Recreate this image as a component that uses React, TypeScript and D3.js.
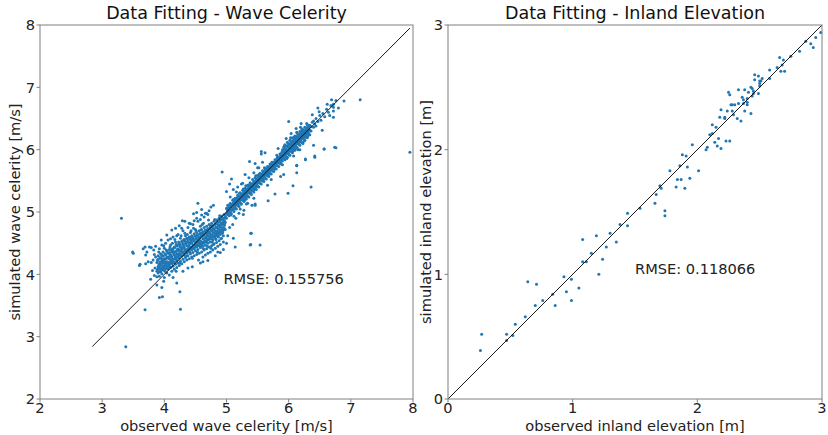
import React from 'react';
import * as d3 from 'd3';

// ---------- data: wave celerity (observed, simulated) ----------
const celerityPoints: [number, number][] = [
  // scattered outliers
  [3.31,4.90],[3.49,4.36],[3.50,4.34],[3.66,4.41],[3.70,4.31],[3.72,4.36],[3.76,4.44],[3.69,4.44],[3.79,4.43],
  [3.83,4.39],[3.84,4.32],[3.61,4.16],[3.70,4.17],[3.79,4.19],[3.82,4.23],[3.60,4.14],[3.74,4.20],
  [3.81,4.06],[3.78,3.92],[3.96,3.79],[3.92,3.63],[3.97,3.64],[3.88,3.83],[3.99,3.89],[4.20,3.86],[4.25,3.72],
  [4.14,3.95],[3.69,3.43],[4.26,3.44],[3.38,2.84],[4.12,4.71],[4.29,4.86],[4.54,5.14],[4.42,4.81],
  [5.40,4.66],[5.39,4.48],[5.54,4.47],[5.14,4.44],[4.90,4.35],[5.00,4.50],[5.46,5.11],[5.32,5.13],
  [4.93,5.64],[5.56,5.97],[5.56,5.93],[5.37,5.81],[5.46,5.78],[5.08,5.53],[5.05,5.45],[5.00,5.33],[5.11,5.36],
  [4.79,5.11],[4.68,4.98],[6.74,6.04],[6.57,6.01],[6.42,5.90],[6.40,6.07],[6.27,5.84],[6.13,5.75],[6.13,5.63],
  [6.07,5.42],[5.99,5.30],[6.36,5.40],[5.78,5.29],[5.67,5.18],[5.87,5.57],[5.46,5.13],[5.41,5.11],[5.28,5.03],
  [5.39,4.66],[5.38,4.47],[5.11,4.58],[7.15,6.80],[6.89,6.78],[6.80,6.67],[6.72,6.73],[6.69,6.80],[6.62,6.73],
  [6.47,6.67],[6.49,6.61],[6.72,6.62],[6.66,6.55],[6.38,6.56],[6.72,6.52],[6.54,6.31],[6.76,6.03],[6.57,6.01],
  [6.42,5.88],[6.27,5.85],[6.13,5.74],[7.95,5.96],[5.24,5.45],[5.62,5.95],[5.72,5.52],[5.92,5.60],[6.00,6.45],
  [5.20,4.98],[5.30,5.60],[4.95,4.52],[5.05,4.75],
  [3.86,4.45],[3.95,4.55],[4.04,4.63],[4.18,4.74],[4.33,4.85],[4.47,4.97],[4.60,5.04],[4.75,5.08],
  [4.30,4.05],[4.45,4.12],[4.58,4.18],[4.70,4.22],[4.82,4.30],[4.95,4.40],[5.02,4.62],[5.10,4.80],
  [3.85,4.10],[3.86,4.28],[3.84,3.98],[4.38,4.10],[4.62,4.20],[4.86,4.36],[4.24,4.78],[4.52,4.99],
  [5.18,5.40],[5.27,4.96],[5.44,5.22],[5.58,5.80],[5.66,5.43],[5.83,6.02],[5.15,4.90],[5.50,5.71],
  // lower dense blob
  [3.88,4.05],[3.88,4.19],[3.88,3.96],[3.90,4.12],[3.90,4.30],[3.90,4.02],[3.90,4.24],
  [3.92,4.08],[3.92,4.17],[3.92,4.41],[3.92,3.97],[3.94,4.15],[3.94,4.26],[3.94,4.04],[3.94,4.33],
  [3.96,4.10],[3.96,4.21],[3.96,4.47],[3.96,4.01],[3.98,4.18],[3.98,4.29],[3.98,4.07],[3.98,4.36],
  [4.00,4.13],[4.00,4.24],[4.00,3.95],[4.00,4.42],[4.02,4.20],[4.02,4.31],[4.02,4.09],[4.02,4.16],
  [4.04,4.27],[4.04,4.12],[4.04,4.38],[4.04,4.02],[4.06,4.19],[4.06,4.34],[4.06,4.08],[4.06,4.55],
  [4.08,4.25],[4.08,4.14],[4.08,4.40],[4.08,3.99],[4.10,4.22],[4.10,4.31],[4.10,4.11],[4.10,4.47],
  [4.12,4.28],[4.12,4.17],[4.12,4.36],[4.12,4.05],[4.14,4.24],[4.14,4.39],[4.14,4.13],[4.14,4.60],
  [4.16,4.31],[4.16,4.20],[4.16,4.44],[4.16,4.08],[4.18,4.27],[4.18,4.36],[4.18,4.16],[4.18,4.52],
  [4.20,4.33],[4.20,4.22],[4.20,4.46],[4.20,4.11],[4.22,4.30],[4.22,4.41],[4.22,4.18],[4.22,4.64],
  [4.24,4.37],[4.24,4.26],[4.24,4.50],[4.24,4.14],[4.26,4.33],[4.26,4.45],[4.26,4.21],[4.26,4.58],
  [4.28,4.40],[4.28,4.29],[4.28,4.53],[4.28,4.17],[4.30,4.36],[4.30,4.48],[4.30,4.24],[4.30,4.70],
  [4.32,4.43],[4.32,4.31],[4.32,4.56],[4.32,4.20],[4.34,4.39],[4.34,4.50],[4.34,4.27],[4.34,4.62],
  [4.36,4.46],[4.36,4.34],[4.36,4.58],[4.36,4.23],[4.38,4.41],[4.38,4.53],[4.38,4.30],[4.38,4.75],
  [4.40,4.48],[4.40,4.37],[4.40,4.60],[4.40,4.25],[4.42,4.44],[4.42,4.56],[4.42,4.33],[4.42,4.67],
  [4.44,4.51],[4.44,4.39],[4.44,4.62],[4.44,4.28],[4.46,4.47],[4.46,4.58],[4.46,4.35],[4.46,4.80],
  [4.48,4.53],[4.48,4.42],[4.48,4.65],[4.48,4.30],[4.50,4.49],[4.50,4.61],[4.50,4.38],[4.50,4.72],
  [4.52,4.56],[4.52,4.44],[4.52,4.67],[4.52,4.32],[4.54,4.52],[4.54,4.63],[4.54,4.40],[4.54,4.85],
  [4.56,4.58],[4.56,4.46],[4.56,4.70],[4.56,4.34],[4.58,4.54],[4.58,4.66],[4.58,4.43],[4.58,4.77],
  [4.60,4.61],[4.60,4.49],[4.60,4.72],[4.60,4.36],[4.62,4.57],[4.62,4.68],[4.62,4.45],[4.62,4.28],
  [4.64,4.63],[4.64,4.52],[4.64,4.75],[4.64,4.39],[4.66,4.59],[4.66,4.71],[4.66,4.47],[4.66,4.31],
  [4.68,4.66],[4.68,4.54],[4.68,4.77],[4.68,4.41],[4.70,4.62],[4.70,4.73],[4.70,4.50],[4.70,4.34],
  [4.72,4.68],[4.72,4.57],[4.72,4.80],[4.72,4.44],[4.74,4.64],[4.74,4.76],[4.74,4.52],[4.74,4.36],
  [4.76,4.71],[4.76,4.59],[4.76,4.82],[4.76,4.46],[4.78,4.67],[4.78,4.78],[4.78,4.55],[4.78,4.39],
  [4.80,4.73],[4.80,4.62],[4.80,4.85],[4.80,4.49],[4.82,4.70],[4.82,4.81],[4.82,4.58],[4.82,4.42],
  [4.84,4.76],[4.84,4.65],[4.84,4.87],[4.84,4.51],[4.86,4.73],[4.86,4.84],[4.86,4.61],[4.86,4.45],
  [4.88,4.79],[4.88,4.68],[4.88,4.90],[4.88,4.54],[4.90,4.76],[4.90,4.87],[4.90,4.64],[4.90,4.48],
  [4.92,4.82],[4.92,4.71],[4.92,4.93],[4.92,4.58],[4.94,4.80],[4.94,4.90],[4.94,4.68],
  [4.96,4.86],[4.96,4.75],[4.96,4.96],[4.98,4.83],[4.98,4.93],[4.98,4.72],
  [4.40,4.82],[4.52,4.90],[4.60,4.95],[4.66,4.98],[4.72,5.02],[4.28,4.74],[4.48,4.86],[4.58,4.88],
  [4.64,4.92],[4.70,4.96],[4.02,4.50],[4.10,4.57],[4.20,4.62],
  [3.89,4.08],[3.89,4.22],[3.91,4.15],[3.91,4.04],[3.93,4.11],[3.93,4.27],[3.95,4.19],[3.95,4.07],
  [3.97,4.14],[3.97,4.30],[3.99,4.22],[3.99,4.10],[4.01,4.17],[4.01,4.33],[4.03,4.25],[4.03,4.14],
  [4.05,4.20],[4.05,4.36],[4.07,4.28],[4.07,4.16],[4.09,4.18],[4.09,4.35],[4.11,4.30],[4.11,4.20],
  [4.13,4.24],[4.13,4.41],[4.15,4.33],[4.15,4.19],[4.17,4.26],[4.17,4.43],[4.19,4.37],[4.19,4.24],
  [4.21,4.29],[4.21,4.47],[4.23,4.40],[4.23,4.27],[4.25,4.31],[4.25,4.48],[4.27,4.43],[4.27,4.30],
  [4.29,4.35],[4.29,4.51],[4.31,4.46],[4.31,4.33],[4.33,4.37],[4.33,4.54],[4.35,4.49],[4.35,4.36],
  [4.37,4.40],[4.37,4.57],[4.39,4.51],[4.39,4.38],[4.41,4.42],[4.41,4.59],[4.43,4.54],[4.43,4.41],
  [4.45,4.44],[4.45,4.60],[4.47,4.56],[4.47,4.43],[4.49,4.46],[4.49,4.62],[4.51,4.58],[4.51,4.45],
  [4.53,4.48],[4.53,4.63],[4.55,4.60],[4.55,4.47],[4.57,4.50],[4.57,4.65],[4.59,4.62],[4.59,4.48],
  [4.61,4.52],[4.61,4.66],[4.63,4.64],[4.63,4.50],[4.65,4.54],[4.65,4.69],[4.67,4.66],[4.67,4.52],
  [4.69,4.57],[4.69,4.71],[4.71,4.68],[4.71,4.55],[4.73,4.60],[4.73,4.74],[4.75,4.70],[4.75,4.57],
  [4.77,4.63],[4.77,4.76],[4.79,4.73],[4.79,4.60],[4.81,4.66],[4.81,4.79],[4.83,4.75],[4.83,4.62],
  [4.85,4.69],[4.85,4.81],[4.87,4.78],[4.87,4.65],[4.89,4.72],[4.89,4.84],[4.91,4.80],[4.91,4.68],
  [4.93,4.75],[4.93,4.87],[4.95,4.83],[4.95,4.71],[4.97,4.79],[4.97,4.90],
  [3.91,4.36],[4.27,4.62],[4.63,4.41],[4.05,4.28],[4.47,4.74],[4.19,4.05],[4.83,4.56],[3.97,4.24],
  [4.39,4.44],[4.71,4.87],[4.13,4.50],[4.55,4.23],[4.87,4.73],[4.01,4.05],[4.33,4.66],[4.79,4.48],
  [4.23,4.33],[4.61,4.80],[4.09,4.44],[4.45,4.26],[4.95,4.62],[3.93,4.20],[4.35,4.29],[4.67,4.60],
  [4.17,4.56],[4.51,4.52],[4.89,4.94],[4.03,4.39],[4.43,4.70],[4.75,4.42],[4.25,4.18],[4.57,4.59],
  [4.11,4.28],[4.91,4.57],[4.31,4.55],[4.69,4.45],[3.95,4.32],[4.41,4.35],[4.85,4.68],[4.21,4.40],
  [4.59,4.71],[4.07,4.12],[4.49,4.48],[4.77,4.52],[4.15,4.36],[4.37,4.64],[4.65,4.58],[4.29,4.42],
  [4.53,4.36],[4.81,4.88],[3.99,4.46],[4.47,4.41],[4.73,4.66],[4.13,4.20],[4.35,4.52],[4.63,4.82],
  [4.19,4.48],[4.55,4.54],[4.93,4.66],[4.01,4.25],[4.27,4.38],[4.69,4.63],[4.11,4.40],[4.43,4.50],
  [4.87,4.60],[4.23,4.52],[4.59,4.44],[4.05,4.18],[4.33,4.40],[4.75,4.78],[4.39,4.58],[4.17,4.30],
  [4.51,4.70],[4.79,4.71],[4.09,4.32],[4.45,4.56],[4.97,4.85],[4.25,4.45],[4.61,4.62],[4.83,4.64],
  // middle band
  [5.00,4.97],[5.00,5.06],[5.00,4.90],[5.02,5.05],[5.02,4.96],[5.02,5.11],[5.04,5.01],[5.04,5.10],[5.04,4.94],
  [5.06,5.09],[5.06,4.99],[5.06,5.14],[5.08,5.03],[5.08,5.12],[5.08,4.97],[5.10,5.13],[5.10,5.04],[5.10,5.19],
  [5.12,5.08],[5.12,5.16],[5.12,5.01],[5.14,5.17],[5.14,5.07],[5.14,5.22],[5.16,5.11],[5.16,5.20],[5.16,5.05],
  [5.18,5.21],[5.18,5.12],[5.18,5.27],[5.20,5.16],[5.20,5.24],[5.20,5.09],[5.22,5.25],[5.22,5.15],[5.22,5.31],
  [5.24,5.20],[5.24,5.29],[5.24,5.13],[5.26,5.28],[5.26,5.19],[5.26,5.35],[5.28,5.24],[5.28,5.33],[5.28,5.17],
  [5.30,5.32],[5.30,5.22],[5.30,5.38],[5.32,5.27],[5.32,5.37],[5.32,5.21],[5.34,5.36],[5.34,5.26],[5.34,5.43],
  [5.36,5.31],[5.36,5.41],[5.36,5.24],[5.38,5.40],[5.38,5.30],[5.38,5.47],[5.40,5.35],[5.40,5.45],[5.40,5.28],
  [5.42,5.44],[5.42,5.34],[5.42,5.52],[5.44,5.39],[5.44,5.49],[5.44,5.32],[5.46,5.48],[5.46,5.38],[5.46,5.55],
  [5.48,5.43],[5.48,5.53],[5.48,5.36],[5.50,5.52],[5.50,5.42],[5.50,5.59],[5.52,5.47],[5.52,5.57],[5.52,5.40],
  [5.54,5.56],[5.54,5.46],[5.54,5.62],[5.56,5.51],[5.56,5.61],[5.56,5.45],[5.58,5.60],[5.58,5.50],[5.58,5.66],
  [5.60,5.55],[5.60,5.64],[5.60,5.49],[5.62,5.63],[5.62,5.54],[5.62,5.69],[5.64,5.59],[5.64,5.68],[5.64,5.53],
  [5.66,5.67],[5.66,5.58],[5.66,5.73],[5.68,5.63],[5.68,5.72],[5.68,5.57],[5.70,5.71],[5.70,5.62],[5.70,5.77],
  [5.72,5.67],[5.72,5.76],[5.72,5.61],[5.74,5.75],[5.74,5.66],[5.74,5.80],[5.76,5.71],[5.76,5.80],[5.76,5.65],
  [5.78,5.79],[5.78,5.70],[5.78,5.84],[5.80,5.75],[5.80,5.84],[5.80,5.69],[5.82,5.83],[5.82,5.74],[5.82,5.88],
  [5.84,5.79],[5.84,5.88],[5.84,5.73],[5.86,5.87],[5.86,5.78],[5.86,5.93],[5.88,5.83],[5.88,5.92],[5.88,5.77],
  [5.06,5.24],[5.16,5.32],[5.26,5.46],[5.36,5.55],[5.44,5.63],[5.52,5.71],[5.12,4.93],[5.22,5.05],[5.34,5.14],
  [5.01,4.99],[5.01,5.04],[5.03,5.07],[5.03,4.98],[5.05,5.02],[5.05,5.08],[5.07,5.11],[5.07,5.03],
  [5.09,5.06],[5.09,5.12],[5.11,5.14],[5.11,5.07],[5.13,5.10],[5.13,5.16],[5.15,5.18],[5.15,5.12],
  [5.17,5.14],[5.17,5.20],[5.19,5.22],[5.19,5.16],[5.21,5.18],[5.21,5.24],[5.23,5.26],[5.23,5.20],
  [5.25,5.22],[5.25,5.28],[5.27,5.30],[5.27,5.24],[5.29,5.26],[5.29,5.32],[5.31,5.34],[5.31,5.28],
  [5.33,5.30],[5.33,5.36],[5.35,5.38],[5.35,5.32],[5.37,5.34],[5.37,5.40],[5.39,5.42],[5.39,5.36],
  [5.41,5.38],[5.41,5.44],[5.43,5.46],[5.43,5.40],[5.45,5.42],[5.45,5.48],[5.47,5.50],[5.47,5.44],
  [5.49,5.46],[5.49,5.52],[5.51,5.54],[5.51,5.48],[5.53,5.50],[5.53,5.56],[5.55,5.58],[5.55,5.52],
  [5.57,5.54],[5.57,5.60],[5.59,5.62],[5.59,5.56],[5.61,5.58],[5.61,5.64],[5.63,5.66],[5.63,5.60],
  [5.65,5.62],[5.65,5.68],[5.67,5.70],[5.67,5.64],[5.69,5.66],[5.69,5.72],[5.71,5.74],[5.71,5.68],
  [5.73,5.70],[5.73,5.76],[5.75,5.78],[5.75,5.72],[5.77,5.74],[5.77,5.80],[5.79,5.82],[5.79,5.76],
  [5.81,5.78],[5.81,5.84],[5.83,5.86],[5.83,5.80],[5.85,5.82],[5.85,5.88],[5.87,5.90],[5.87,5.84],
  [5.89,5.86],[5.89,5.92],
  [5.03,5.02],[5.17,5.23],[5.29,5.19],[5.41,5.41],[5.57,5.58],[5.69,5.61],[5.83,5.85],[5.11,5.20],
  [5.23,5.13],[5.37,5.44],[5.49,5.41],[5.63,5.70],[5.77,5.69],[5.07,4.95],[5.21,5.30],[5.33,5.25],
  [5.47,5.58],[5.59,5.51],[5.73,5.80],[5.87,5.79],[5.13,5.05],[5.27,5.37],[5.39,5.30],[5.53,5.61],
  [5.67,5.60],[5.81,5.91],[5.19,5.10],[5.31,5.42],[5.45,5.36],[5.61,5.71],[5.75,5.66],[5.89,5.96],
  // upper dense cluster
  [5.90,5.91],[5.90,5.82],[5.90,6.00],[5.90,5.76],[5.92,5.95],[5.92,5.86],[5.92,6.04],[5.92,5.99],
  [5.94,5.92],[5.94,6.01],[5.94,5.84],[5.94,6.08],[5.96,5.99],[5.96,5.89],[5.96,6.06],[5.96,5.94],
  [5.98,5.96],[5.98,6.05],[5.98,5.88],[5.98,6.12],[6.00,6.03],[6.00,5.93],[6.00,6.10],[6.00,5.98],
  [6.02,6.00],[6.02,6.08],[6.02,5.91],[6.02,6.15],[6.04,6.07],[6.04,5.97],[6.04,6.13],[6.04,6.02],
  [6.06,6.04],[6.06,6.12],[6.06,5.95],[6.06,6.19],[6.08,6.11],[6.08,6.01],[6.08,6.17],[6.08,6.06],
  [6.10,6.08],[6.10,6.16],[6.10,5.99],[6.10,6.22],[6.12,6.14],[6.12,6.05],[6.12,6.21],[6.12,6.10],
  [6.14,6.12],[6.14,6.20],[6.14,6.03],[6.14,6.26],[6.16,6.18],[6.16,6.09],[6.16,6.24],[6.16,6.14],
  [6.18,6.15],[6.18,6.23],[6.18,6.07],[6.18,6.29],[6.20,6.22],[6.20,6.13],[6.20,6.28],[6.20,6.18],
  [6.22,6.19],[6.22,6.27],[6.22,6.11],[6.22,6.33],[6.24,6.26],[6.24,6.17],[6.24,6.31],[6.24,6.21],
  [6.26,6.23],[6.26,6.30],[6.26,6.15],[6.26,6.36],[6.28,6.29],[6.28,6.21],[6.28,6.35],[6.28,6.25],
  [6.30,6.27],[6.30,6.34],[6.30,6.19],[6.30,6.40],[6.32,6.33],[6.32,6.25],[6.32,6.38],
  [6.34,6.31],[6.34,6.39],[6.34,6.24],[5.96,6.18],[6.04,6.26],[6.12,6.34],[6.20,6.42],[6.08,5.90],[6.18,6.00],
  [5.91,5.88],[5.91,5.97],[5.93,5.95],[5.93,5.90],[5.95,5.92],[5.95,6.01],[5.97,6.00],[5.97,5.94],
  [5.99,5.96],[5.99,6.05],[6.01,6.04],[6.01,5.98],[6.03,6.00],[6.03,6.09],[6.05,6.08],[6.05,6.02],
  [6.07,6.04],[6.07,6.13],[6.09,6.12],[6.09,6.06],[6.11,6.08],[6.11,6.17],[6.13,6.16],[6.13,6.10],
  [6.15,6.12],[6.15,6.21],[6.17,6.20],[6.17,6.14],[6.19,6.16],[6.19,6.25],[6.21,6.24],[6.21,6.18],
  [6.23,6.20],[6.23,6.29],[6.25,6.28],[6.25,6.22],[6.27,6.24],[6.27,6.32],[6.29,6.32],[6.29,6.26],
  [6.31,6.28],[6.31,6.35],[6.33,6.36],[6.33,6.30],
  [5.93,6.06],[6.07,5.98],[6.21,6.32],[6.11,6.02],[5.97,5.86],[6.25,6.14],[6.03,6.19],[6.17,6.11],
  [6.29,6.42],[5.95,5.97],[6.13,6.28],[6.27,6.20],[6.01,5.92],[6.19,6.36],[6.09,6.20],[6.23,6.10],
  [6.05,6.14],[6.15,6.00],[6.31,6.22],[5.99,6.10],
  // sparse top
  [6.36,6.37],[6.36,6.30],[6.38,6.44],[6.40,6.36],[6.40,6.46],[6.42,6.41],[6.44,6.50],[6.44,6.38],
  [6.47,6.45],[6.50,6.55],[6.52,6.47],[6.55,6.58],[6.58,6.53],[6.61,6.65],[6.64,6.60],[6.68,6.71],
  [6.72,6.68],[6.76,6.79],
];

// ---------- data: inland elevation (observed, simulated) ----------
const elevationPoints: [number, number][] = [
  [0.26,0.39],[0.27,0.52],[0.47,0.52],[0.47,0.47],[0.52,0.51],[0.54,0.60],[0.62,0.66],[0.64,0.94],
  [0.71,0.92],[0.70,0.75],[0.76,0.79],[0.84,0.84],[0.86,0.75],[0.93,0.98],[0.99,0.96],[0.95,0.86],
  [0.99,0.79],[1.05,0.89],[1.08,1.10],[1.11,1.10],[1.21,1.00],[1.08,1.28],[1.15,1.17],[1.19,1.31],
  [1.27,1.22],[1.30,1.33],[1.35,1.26],[1.24,1.12],[1.38,1.40],
  [1.44,1.39],[1.44,1.49],[1.54,1.53],[1.66,1.57],[1.67,1.64],[1.70,1.71],[1.71,1.69],[1.74,1.47],
  [1.74,1.51],[1.83,1.70],[1.90,1.69],[1.84,1.76],[1.87,1.76],[1.94,1.77],[2.01,1.83],[1.78,1.83],
  [1.92,1.86],[1.86,1.87],[1.88,1.96],[1.91,1.95],[1.96,2.04],[2.07,2.00],[2.08,2.02],[2.14,2.06],
  [2.16,2.03],[2.19,2.01],[2.17,2.09],[2.23,2.07],[2.26,2.07],[2.10,2.12],[2.12,2.13],[2.15,2.18],
  [2.12,2.20],[2.18,2.26],[2.22,2.25],[2.22,2.26],[2.19,2.32],[2.24,2.31],[2.28,2.31],[2.29,2.28],
  [2.32,2.25],[2.35,2.23],[2.25,2.46],[2.27,2.36],[2.28,2.36],[2.30,2.36],[2.33,2.37],[2.26,2.44],
  [2.36,2.42],[2.37,2.40],[2.40,2.41],[2.37,2.37],[2.40,2.36],[2.38,2.31],[2.43,2.29],[2.40,2.38],
  [2.33,2.48],[2.38,2.48],[2.41,2.46],[2.43,2.50],[2.44,2.49],[2.45,2.47],[2.44,2.43],[2.45,2.45],
  [2.49,2.45],[2.50,2.51],[2.50,2.53],[2.51,2.55],[2.52,2.57],[2.50,2.55],[2.46,2.60],[2.46,2.56],
  [2.49,2.59],[2.58,2.57],[2.58,2.64],[2.64,2.66],[2.67,2.63],[2.70,2.63],[2.68,2.68],[2.66,2.74],
  [2.69,2.72],[2.75,2.75],[2.82,2.79],[2.87,2.87],[2.91,2.85],[2.93,2.82],[2.95,2.90],[2.99,2.94],
];

const celerityTicks = [2, 3, 4, 5, 6, 7, 8];
const elevationTicks = [0, 1, 2, 3];
const celerityRmse = 'RMSE: 0.155756';
const elevationRmse = 'RMSE: 0.118066';
const celerityRmseAt: [number, number] = [4.95, 3.85];
const elevationRmseAt: [number, number] = [1.5, 1.0];

const FONT = 'DejaVu Sans, sans-serif';
const BLUE = '#1f77b4';

type PanelProps = {
  x0: number; x1: number; y0: number; y1: number;
  domain: [number, number];
  ticks: number[];
  points: [number, number][];
  lineFrom: number; lineTo: number;
  title: string; xLabel: string; yLabel: string;
  rmse: string; rmseAt: [number, number];
  yLabelX: number;
};

function Panel(p: PanelProps) {
  const xs = d3.scaleLinear().domain(p.domain).range([p.x0, p.x1]);
  const ys = d3.scaleLinear().domain(p.domain).range([p.y1, p.y0]);
  const fs = 14.6;
  return (
    <g fontFamily={FONT}>
      <text x={(p.x0 + p.x1) / 2} y={p.y0 - 6} textAnchor="middle" fontSize={17.5} fill="#111">{p.title}</text>
      <g>
        {p.points.map((d, i) => (
          <circle key={i} cx={xs(d[0])} cy={ys(d[1])} r={1.5} fill={BLUE} />
        ))}
      </g>
      <line x1={xs(p.lineFrom)} y1={ys(p.lineFrom)} x2={xs(p.lineTo)} y2={ys(p.lineTo)} stroke="#000" strokeWidth={0.9} />
      <rect x={p.x0} y={p.y0} width={p.x1 - p.x0} height={p.y1 - p.y0} fill="none" stroke="#808080" strokeWidth={1} />
      {p.ticks.map((t) => (
        <g key={'x' + t}>
          <line x1={xs(t)} x2={xs(t)} y1={p.y1} y2={p.y1 + 3.5} stroke="#808080" />
          <text x={xs(t)} y={p.y1 + 14} textAnchor="middle" fontSize={fs} fill="#222">{t}</text>
        </g>
      ))}
      {p.ticks.map((t) => (
        <g key={'y' + t}>
          <line x1={p.x0 - 3.5} x2={p.x0} y1={ys(t)} y2={ys(t)} stroke="#808080" />
          <text x={p.x0 - 5} y={ys(t) + 5.3} textAnchor="end" fontSize={fs} fill="#222">{t}</text>
        </g>
      ))}
      <text x={(p.x0 + p.x1) / 2} y={p.y1 + 32} textAnchor="middle" fontSize={fs} fill="#222">{p.xLabel}</text>
      <text transform={`translate(${p.yLabelX},${(p.y0 + p.y1) / 2}) rotate(-90)`} textAnchor="middle" fontSize={fs} fill="#222">{p.yLabel}</text>
      <text x={xs(p.rmseAt[0])} y={ys(p.rmseAt[1])} fontSize={fs} fill="#222">{p.rmse}</text>
    </g>
  );
}

export default function App() {
  const allC = celerityPoints.flat();
  const cMin = d3.min(allC) as number;
  const cMax = d3.max(allC) as number;
  return (
    <svg width={828} height={435} style={{ position: 'absolute', left: 0, top: 0, background: '#fff' }}>
      <rect width={828} height={435} fill="#fff" />
      <Panel x0={40} x1={413} y0={25} y1={399} domain={[2, 8]} ticks={celerityTicks} points={celerityPoints}
        lineFrom={cMin} lineTo={cMax} title="Data Fitting - Wave Celerity"
        xLabel="observed wave celerity [m/s]" yLabel="simulated wave celerity [m/s]"
        rmse={celerityRmse} rmseAt={celerityRmseAt} yLabelX={20} />
      <Panel x0={448} x1={822} y0={25} y1={399} domain={[0, 3]} ticks={elevationTicks} points={elevationPoints}
        lineFrom={0} lineTo={3} title="Data Fitting - Inland Elevation"
        xLabel="observed inland elevation [m]" yLabel="simulated inland elevation [m]"
        rmse={elevationRmse} rmseAt={elevationRmseAt} yLabelX={431} />
    </svg>
  );
}
